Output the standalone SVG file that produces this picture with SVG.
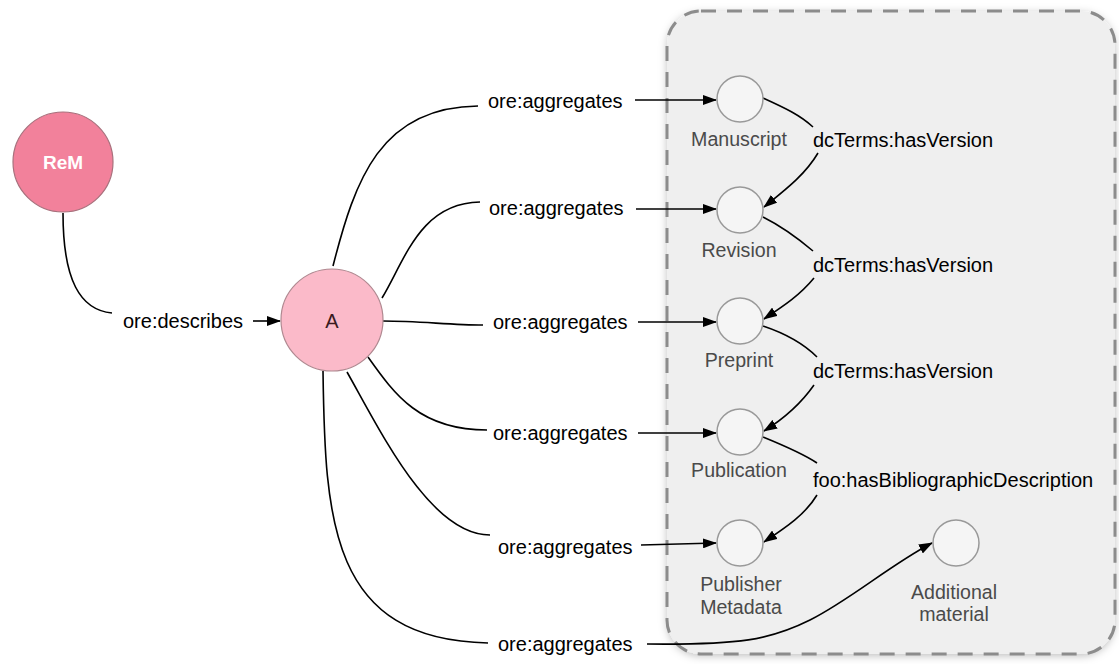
<svg xmlns="http://www.w3.org/2000/svg" width="1119" height="664" viewBox="0 0 1119 664">
<defs>
<marker id="arr" viewBox="0 0 14 10" refX="13" refY="5" markerWidth="14" markerHeight="10" markerUnits="userSpaceOnUse" orient="auto">
<path d="M0,0 L14,5 L0,10 z" fill="#000"/>
</marker>
<filter id="sh" x="-5%" y="-5%" width="110%" height="110%">
<feDropShadow dx="0" dy="2" stdDeviation="4" flood-color="#000" flood-opacity="0.25"/>
</filter>
<style>
.t{font-family:"Liberation Sans",Arial,sans-serif;font-size:20px;fill:#000}
.n{font-family:"Liberation Sans",Arial,sans-serif;font-size:19.6px;fill:#4a4a4a;text-anchor:middle}
.e{fill:none;stroke:#000;stroke-width:1.6}
.a{marker-end:url(#arr)}
.sm{fill:#f5f5f5;stroke:#999;stroke-width:1.5}
</style>
</defs>
<rect width="1119" height="664" fill="#fff"/>
<g id="container">
<rect x="667" y="11" width="448" height="643" rx="34" fill="#efefef" filter="url(#sh)"/>
<rect x="667" y="11" width="448" height="643" rx="34" fill="none" stroke="#8c8c8c" stroke-width="3" stroke-dasharray="15 11"/>
</g>
<g id="connectors">
<path class="e" d="M63,213 C63,280 80,310 112,313"/>
<path class="e a" d="M253,321 L280,321"/>
<path class="e" d="M333,266 C355,180 380,107 478,106"/>
<path class="e" d="M382,298 C405,260 420,203 480,202"/>
<path class="e" d="M383,321 C420,321 450,325 483,325"/>
<path class="e" d="M368,357 C395,395 420,430 487,430"/>
<path class="e" d="M347,372 C380,430 430,535 490,535"/>
<path class="e" d="M323,371 C325,520 330,640 488,643"/>
<path class="e a" d="M635,100 L716,100"/>
<path class="e a" d="M636,209 L716,209"/>
<path class="e a" d="M638,322 L716,322"/>
<path class="e a" d="M638,433 L716,433"/>
<path class="e a" d="M641,545 L716,543"/>
<path class="e a" d="M647,644 C740,645 770,640 810,620 S890,565 932,543"/>
<path class="e" d="M763,98 C785,108 800,115 813,127"/>
<path class="e a" d="M818,153 C805,175 785,190 764,207"/>
<path class="e" d="M763,217 C785,228 800,240 813,251"/>
<path class="e a" d="M814,278 C800,295 785,305 764,319"/>
<path class="e" d="M763,326 C790,335 805,345 817,357"/>
<path class="e a" d="M814,385 C800,405 785,418 764,431"/>
<path class="e" d="M763,437 C790,448 805,455 817,463"/>
<path class="e a" d="M817,495 C805,515 785,528 764,542"/>
<text class="t" x="123" y="328">ore:describes</text>
<text class="t" x="488" y="108">ore:aggregates</text>
<text class="t" x="489" y="215">ore:aggregates</text>
<text class="t" x="493" y="329">ore:aggregates</text>
<text class="t" x="493" y="440">ore:aggregates</text>
<text class="t" x="498" y="554">ore:aggregates</text>
<text class="t" x="498" y="651">ore:aggregates</text>
<text class="t" x="813" y="147">dcTerms:hasVersion</text>
<text class="t" x="813" y="272">dcTerms:hasVersion</text>
<text class="t" x="813" y="378">dcTerms:hasVersion</text>
<text class="t" x="813" y="487">foo:hasBibliographicDescription</text>
</g>
<g id="node-ReM">
<circle cx="63" cy="162" r="50" fill="#f2819b" stroke="#a8707c" stroke-width="1.2"/>
<text x="63" y="169" text-anchor="middle" font-family="Liberation Sans, Arial, sans-serif" font-size="19" font-weight="bold" fill="#fff">ReM</text>
</g>
<g id="node-A">
<circle cx="332" cy="320" r="51" fill="#fbbac9" stroke="#b08890" stroke-width="1.2"/>
<text x="332" y="328" text-anchor="middle" font-family="Liberation Sans, Arial, sans-serif" font-size="20" fill="#3a1a20">A</text>
</g>
<g id="node-manuscript">
<circle class="sm" cx="740" cy="99" r="23"/>
<text class="n" x="739" y="146">Manuscript</text>
</g>
<g id="node-revision">
<circle class="sm" cx="740" cy="210" r="23"/>
<text class="n" x="739" y="257">Revision</text>
</g>
<g id="node-preprint">
<circle class="sm" cx="740" cy="321" r="23"/>
<text class="n" x="739" y="367">Preprint</text>
</g>
<g id="node-publication">
<circle class="sm" cx="740" cy="432" r="23"/>
<text class="n" x="739" y="477">Publication</text>
</g>
<g id="node-publisher-metadata">
<circle class="sm" cx="740" cy="543" r="23"/>
<text class="n" x="741" y="591">Publisher</text>
<text class="n" x="741" y="614">Metadata</text>
</g>
<g id="node-additional-material">
<circle class="sm" cx="956" cy="543" r="23"/>
<text class="n" x="954" y="599">Additional</text>
<text class="n" x="954" y="621">material</text>
</g>
</svg>
